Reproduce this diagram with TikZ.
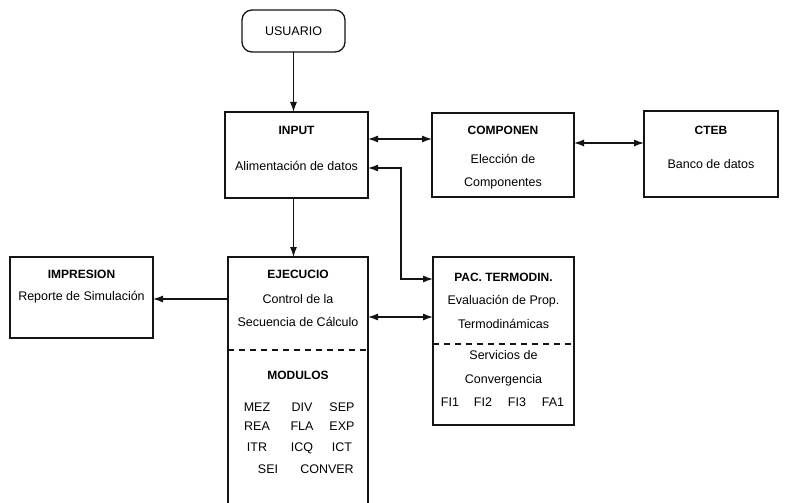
\documentclass[tikz,border=0pt]{standalone}
\usepackage{fontspec}
\setmainfont{Liberation Sans}
\usepackage{tikz}
\usetikzlibrary{positioning,arrows.meta}
\definecolor{InkBlack}{RGB}{20,20,20}

\begin{document}
\begin{tikzpicture}[
  x=1pt, y=-1pt,
  font=\fontsize{12.5}{14}\selectfont,
  box/.style={draw=InkBlack, line width=1.3pt, inner sep=0pt, outer sep=0pt},
  term/.style={draw=InkBlack, line width=1.3pt, rounded corners=10pt, inner sep=0pt, outer sep=0pt, minimum width=103pt, minimum height=42pt},
  head/.style={font=\fontsize{12}{14}\selectfont\bfseries, inner sep=0pt, text height=9pt, text depth=2pt},
  txt/.style={inner sep=0pt, text height=9pt, text depth=2pt},
  sep/.style={dashed, dash pattern=on 6pt off 5pt, line width=1.1pt, color=InkBlack},
  arrow/.style={-{Latex[length=10pt,width=7pt]}, line width=1.2pt, color=InkBlack},
  both/.style={{Latex[length=10pt,width=7pt]}-{Latex[length=10pt,width=7pt]}, line width=1.2pt, color=InkBlack}
]
\clip (0,0) rectangle (785,503);
\fill[white] (0,0) rectangle (785,503);

% boxes
\node[term] (usuario) at (293.5,31) {USUARIO};
\node[box, minimum width=143pt, minimum height=86pt] (input) at (296.5,155) {};
\node[box, minimum width=142pt, minimum height=84pt] (componen) at (503,155) {};
\node[box, minimum width=134pt, minimum height=86pt] (cteb) at (711,154) {};
\node[box, minimum width=143pt, minimum height=81pt] (impresion) at (81.5,297.5) {};
\node[box, minimum width=140pt, minimum height=253pt] (ejecucio) at (298,383.5) {};
\node[box, minimum width=141pt, minimum height=168pt] (pac) at (503.5,341) {};

% texts
\node[head] (inputhd) at (296.5,131) {INPUT};
\node[txt] (inputtx) at (296.5,167) {Alimentación de datos};
\node[head] (componenhd) at (503,131) {COMPONEN};
\node[txt] (componentx) at (503,160) {Elección de};
\node[txt] (componentx2) at (503,183) {Componentes};
\node[head] (ctebhd) at (711,131) {CTEB};
\node[txt] (ctebtx) at (711,165) {Banco de datos};
\node[head] (impresionhd) at (81.5,275) {IMPRESION};
\node[txt] (impresiontx) at (81.5,297) {Reporte de Simulación};
\node[head] (ejecuciohd) at (298,275) {EJECUCIO};
\node[txt] (ejecuciotx) at (298,300) {Control de la};
\node[txt] (ejecuciotx2) at (298,323) {Secuencia de Cálculo};
\node[head] (moduloshd) at (298,376) {MODULOS};
\node[head] (pachd) at (503.5,278) {PAC. TERMODIN.};
\node[txt] (pactx) at (503.5,301) {Evaluación de Prop.};
\node[txt] (pactx2) at (503.5,325) {Termodinámicas};
\node[txt] (servtx) at (503.5,356) {Servicios de};
\node[txt] (servtx2) at (503.5,380) {Convergencia};

% module names
\foreach \name/\x/\y in {MEZ/257/408, DIV/302/408, SEP/342/408,
                         REA/257/427, FLA/302/427, EXP/342/427,
                         ITR/257/448, ICQ/302/448, ICT/342/448,
                         SEI/268/470, CONVER/327/470}
  \node[txt] (mod\name) at (\x,\y) {\name};
\foreach \name/\x in {FI1/450, FI2/483, FI3/517, FA1/553}
  \node[txt] (conv\name) at (\x,403) {\name};

% separators
\draw[sep] (ejecucio.west |- 0,350) -- (ejecucio.east |- 0,350);
\draw[sep] (pac.west |- 0,344) -- (pac.east |- 0,344);

% connectors
\draw[arrow] (usuario.south) -- (usuario.south |- input.north);
\draw[both] (input.east |- 0,139) -- (componen.west |- 0,139);
\draw[both] (componen.east |- 0,143) -- (cteb.west |- 0,143);
\draw[both] (input.east |- 0,168) -| (401,279) -- (pac.west |- 0,279);
\draw[arrow] (usuario.south |- input.south) -- (usuario.south |- ejecucio.north);
\draw[both] (ejecucio.east |- 0,317) -- (pac.west |- 0,317);
\draw[arrow] (ejecucio.west |- 0,299) -- (impresion.east |- 0,299);
\end{tikzpicture}
\end{document}
